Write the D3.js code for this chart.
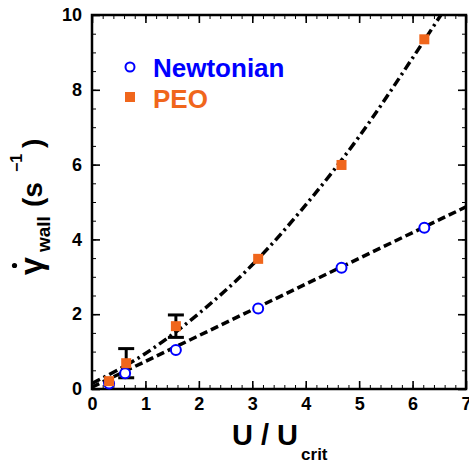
<!DOCTYPE html>
<html>
<head>
<meta charset="utf-8">
<script src="https://cdn.jsdelivr.net/npm/d3@7"></script>
<style>
  body { margin: 0; background: #fff; }
  text { font-family: "Liberation Sans", Arial, Helvetica, sans-serif; font-weight: bold; }
</style>
</head>
<body>
<div id="chart"></div>
<script>
var width = 469, height = 463;
var margin = {left: 92, right: 3, top: 15, bottom: 74};

// data
var newtX = [0.32, 0.62, 1.57, 3.11, 4.67, 6.22];
var newtY = [0.15, 0.42, 1.04, 2.15, 3.24, 4.31];
var peoX = [0.32, 0.64, 1.57, 3.11, 4.67, 6.22];
var peoY = [0.21, 0.69, 1.68, 3.48, 5.99, 9.35];
var peoErr = [0, 0.39, 0.30, 0, 0, 0];
// fitted curves
var newtFitX = [0, 7];
var newtFitY = [0.05, 4.87];
var peoFitX = [0, 1, 2, 3, 4, 5, 6, 6.53];
var peoFitY = [0.15, 0.95, 2.02, 3.32, 4.92, 6.75, 8.85, 10.0];

var xTicks = [0, 1, 2, 3, 4, 5, 6, 7];
var yTicks = [0, 2, 4, 6, 8, 10];

var svg = d3.select("#chart").append("svg")
    .attr("width", width)
    .attr("height", height);

var x = d3.scaleLinear().domain([0, 7]).range([margin.left, width - margin.right]);
var y = d3.scaleLinear().domain([0, 10]).range([height - margin.bottom, margin.top]);

var x0 = x.range()[0], x1 = x.range()[1];
var y0 = y.range()[0], y1 = y.range()[1];

var xMinor = d3.range(0, 7.001, 0.2);
var yMinor = d3.range(0, 10.001, 0.5);

// axes on all four sides, ticks pointing inward
function drawAxis(axisFn, scale, transform, major, minor, pad) {
    svg.append("g")
        .attr("transform", transform)
        .call(axisFn(scale).tickValues(minor).tickSize(-4).tickFormat(""))
        .call(function(g) { g.select(".domain").remove(); });
    var g = svg.append("g")
        .attr("transform", transform)
        .call(axisFn(scale).tickValues(major).tickSize(-8).tickPadding(pad || 0)
            .tickFormat(pad ? d3.format("d") : ""));
    g.select(".domain").remove();
    g.selectAll(".tick line").attr("stroke-width", 1.6);
    g.selectAll("text").style("font-size", "18px").attr("fill", "#000");
    return g;
}

drawAxis(d3.axisBottom, x, "translate(0," + y0 + ")", xTicks, xMinor, 8);
drawAxis(d3.axisTop, x, "translate(0," + y1 + ")", xTicks, xMinor, 0);
drawAxis(d3.axisLeft, y, "translate(" + x0 + ",0)", yTicks, yMinor, 10);
drawAxis(d3.axisRight, y, "translate(" + x1 + ",0)", yTicks, yMinor, 0);

svg.selectAll(".tick line").attr("stroke", "#000");

svg.append("rect")
    .attr("x", x0).attr("y", y1)
    .attr("width", x1 - x0).attr("height", y0 - y1)
    .attr("fill", "none").attr("stroke", "#000").attr("stroke-width", 2.5);

svg.append("clipPath").attr("id", "plot")
  .append("rect")
    .attr("x", x0).attr("y", y1)
    .attr("width", x1 - x0).attr("height", y0 - y1);

// fit lines
var line = d3.line()
    .x(function(d) { return x(d[0]); })
    .y(function(d) { return y(d[1]); })
    .curve(d3.curveMonotoneX);

svg.append("path")
    .datum(d3.zip(newtFitX, newtFitY))
    .attr("d", line)
    .attr("clip-path", "url(#plot)")
    .attr("fill", "none").attr("stroke", "#000")
    .attr("stroke-width", 3.5)
    .attr("stroke-dasharray", "8,4");

svg.append("path")
    .datum(d3.zip(peoFitX, peoFitY))
    .attr("d", line)
    .attr("clip-path", "url(#plot)")
    .attr("fill", "none").attr("stroke", "#000")
    .attr("stroke-width", 3.5)
    .attr("stroke-dasharray", "9,4,2.5,4");

// error bars
var peo = d3.zip(peoX, peoY, peoErr);
var err = svg.append("g").attr("stroke", "#000").attr("stroke-width", 3);
peo.filter(function(d) { return d[2] > 0; }).forEach(function(d) {
    var cx = x(d[0]);
    err.append("line").attr("x1", cx).attr("x2", cx)
        .attr("y1", y(d[1] - d[2])).attr("y2", y(d[1] + d[2]));
    [d[1] - d[2], d[1] + d[2]].forEach(function(v) {
        err.append("line").attr("x1", cx - 8).attr("x2", cx + 8)
            .attr("y1", y(v)).attr("y2", y(v));
    });
});

// markers
svg.append("g").selectAll("circle")
    .data(d3.zip(newtX, newtY))
    .enter().append("circle")
    .attr("cx", function(d) { return x(d[0]); })
    .attr("cy", function(d) { return y(d[1]); })
    .attr("r", 5)
    .attr("fill", "#fff")
    .attr("stroke", "#0000ff")
    .attr("stroke-width", 2);

svg.append("g").selectAll("rect")
    .data(peo)
    .enter().append("rect")
    .attr("x", function(d) { return x(d[0]) - 5; })
    .attr("y", function(d) { return y(d[1]) - 5; })
    .attr("width", 10).attr("height", 10)
    .attr("fill", "#f0661c");

// legend
svg.append("circle").attr("cx", 130).attr("cy", 67).attr("r", 4.5)
    .attr("fill", "#fff").attr("stroke", "#0000ff").attr("stroke-width", 2);
svg.append("text").text("Newtonian")
    .attr("x", 153).attr("y", 77)
    .attr("fill", "#0000ff").style("font-size", "26px");
svg.append("rect").attr("x", 125).attr("y", 92).attr("width", 10).attr("height", 10)
    .attr("fill", "#f0661c");
svg.append("text").text("PEO")
    .attr("x", 153).attr("y", 108)
    .attr("fill", "#f0661c").style("font-size", "26px");

// x axis title
var xt = svg.append("text")
    .attr("x", 232).attr("y", 445)
    .style("font-size", "29px");
xt.append("tspan").text("U / U");
xt.append("tspan").text("crit").attr("dx", 3).attr("dy", 15).style("font-size", "17px");

// y axis title, rotated; pieces placed one by one
var yt = svg.append("g").attr("transform", "translate(42,0) rotate(-90)");
yt.append("text").text("\u03b3").attr("x", -275).attr("y", 0).style("font-size", "32px");
yt.append("circle").attr("cx", -265.5).attr("cy", -27.5).attr("r", 2.6).attr("fill", "#000");
yt.append("text").text("wall").attr("x", -252).attr("y", 8).style("font-size", "19px");
yt.append("text").text("(s").attr("x", -207).attr("y", 0).style("font-size", "28px");
yt.append("text").text("\u22121").attr("x", -172).attr("y", -20).style("font-size", "16px");
yt.append("text").text(")").attr("x", -148).attr("y", 0).style("font-size", "28px");
</script>
</body>
</html>
